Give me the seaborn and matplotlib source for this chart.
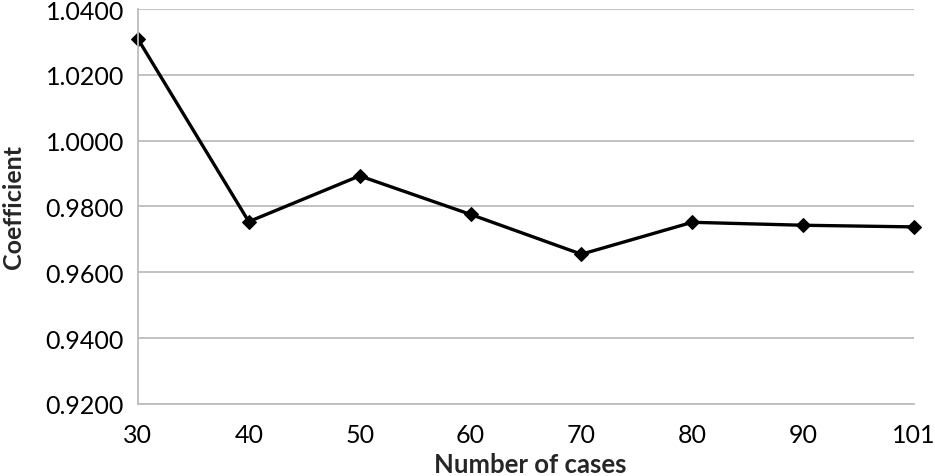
import matplotlib
matplotlib.use("Agg")
import matplotlib.pyplot as plt
import matplotlib.ticker as mticker
import pandas as pd
import seaborn as sns

# values
cases = ["30", "40", "50", "60", "70", "80", "90", "101"]
coefficient = [1.0309, 0.9754, 0.9893, 0.9776, 0.9655, 0.9752, 0.9743, 0.9738]

df = pd.DataFrame({"cases": cases, "coefficient": coefficient})

sns.set_theme(style="white")
plt.rcParams["font.family"] = ["Lato", "DejaVu Sans"]

fig = plt.figure(figsize=(9.35, 4.77), dpi=100)
ax = fig.add_axes([0.1475, 0.151, 0.830, 0.828])

sns.lineplot(data=df, x="cases", y="coefficient", ax=ax, color="black",
             linewidth=2.4, marker="D", markersize=7.5, markeredgecolor="black",
             sort=False, clip_on=False)

ax.set_ylim(0.92, 1.04)
ax.set_xlim(0, len(cases) - 1)
ax.yaxis.set_major_locator(mticker.MultipleLocator(0.02))
ax.yaxis.set_major_formatter(mticker.FormatStrFormatter("%.4f"))
ax.grid(axis="y", color="#bdbdbd", linewidth=1.3)
ax.set_axisbelow(True)

for side in ["top", "right"]:
    ax.spines[side].set_visible(False)
for side in ["left", "bottom"]:
    ax.spines[side].set_color("#bdbdbd")
    ax.spines[side].set_linewidth(1.3)

ax.tick_params(axis="both", length=0, labelsize=18, colors="black")
ax.tick_params(axis="x", pad=14)
ax.tick_params(axis="y", pad=10)
ax.set_xlabel("Number of cases", fontsize=18.5, fontweight="bold", va="center")
ax.set_ylabel("Coefficient", fontsize=18, fontweight="bold", va="center")
ax.xaxis.set_label_coords(0.505, -0.152)
ax.yaxis.set_label_coords(-0.160, 0.5)

fig.savefig("out.png", dpi=100)
